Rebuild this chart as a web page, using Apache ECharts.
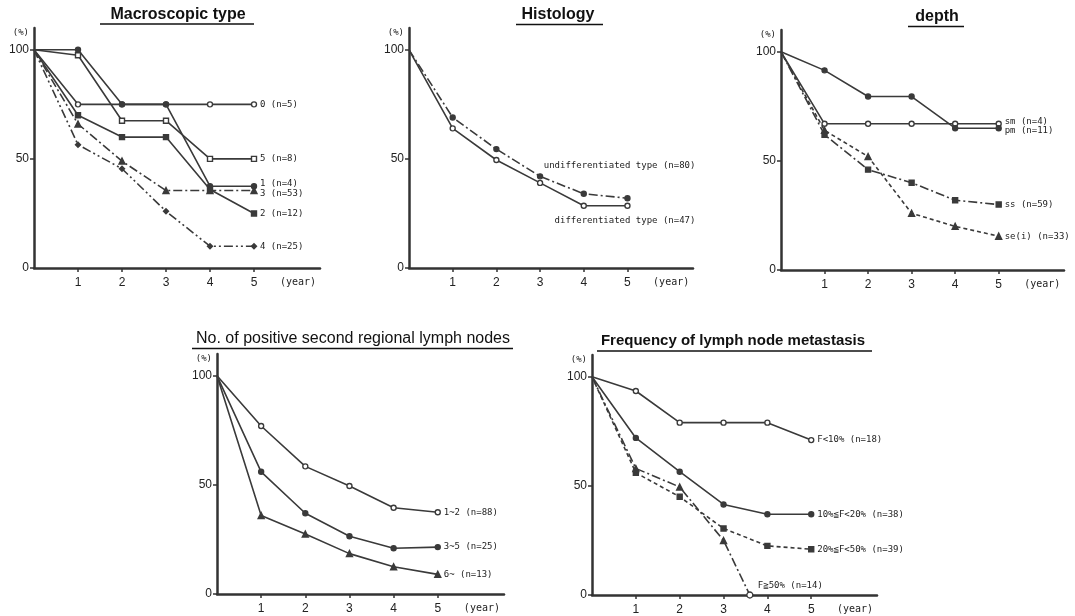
<!DOCTYPE html>
<html>
<head>
<meta charset="utf-8">
<script src="https://cdn.jsdelivr.net/npm/echarts@6/dist/echarts.min.js"></script>
<style>html,body{margin:0;padding:0;background:#fff}#c{width:1075px;height:616px}</style>
</head>
<body>
<div id="c"></div>
<script>
// ---------- data ----------
const years = [0, 1, 2, 3, 4, 5];
const xTicks = [1, 2, 3, 4, 5];
const yTicks = [0, 50, 100];

// Macroscopic type
const macro0 = [100, 75, 75, 75, 75, 75];
const macro5 = [100, 97.5, 67.5, 67.5, 50, 50];
const macro1 = [100, 100, 75, 75, 37.5, 37.5];
const macro3 = [100, 66, 49, 35.5, 35.5, 35.5];
const macro2 = [100, 70, 60, 60, 36, 25];
const macro4 = [100, 56.5, 45.5, 26, 10, 10];

// Histology
const histUndiff = [100, 69, 54.5, 42, 34, 32];
const histDiff = [100, 64, 49.5, 39, 28.5, 28.5];

// depth
const depthSm = [100, 67, 67, 67, 67, 67];
const depthPm = [100, 91.5, 79.5, 79.5, 65, 65];
const depthSs = [100, 62, 46, 40, 32, 30];
const depthSe = [100, 64, 52, 26, 20, 15.5];

// No. of positive second regional lymph nodes
const ln12 = [100, 77, 58.5, 49.5, 39.5, 37.5];
const ln35 = [100, 56, 37, 26.5, 21, 21.5];
const ln6 = [100, 36, 27.5, 18.5, 12.5, 9];

// Frequency of lymph node metastasis
const freqLt10 = [100, 93.5, 79, 79, 79, 71];
const freq10to20 = [100, 72, 56.5, 41.5, 37, 37];
const freq20to50 = [100, 56, 45, 30.5, 22.5, 21];
const freqGe50X = [0, 1, 2, 3, 3.6];
const freqGe50 = [100, 58, 49.5, 25, 0];

// ---------- styling / layout ----------
const INK = '#333';
const LINE = '#3a3a3a';
const MONO = '"DejaVu Sans Mono", "Liberation Mono", monospace';
const SANS = '"Liberation Sans", Arial, sans-serif';
const DASHDOT = [9, 3, 2, 3];
const DASHDOTDOT = [9, 3, 2, 3, 2, 3];
const DASHED = [4, 3];

const grids = [
  {left: 34, top: 28, width: 286, height: 240},
  {left: 409, top: 28, width: 284, height: 240},
  {left: 781, top: 30, width: 283, height: 240},
  {left: 217, top: 354, width: 287, height: 240},
  {left: 592, top: 355, width: 285, height: 240}
];

function xAxisFor(i) {
  return {
    type: 'value', gridIndex: i, min: 0, max: 6.5,
    axisLine: {show: true, lineStyle: {color: INK, width: 2.5}},
    axisTick: {show: true, length: 4, lineStyle: {color: INK, width: 1.5}, customValues: xTicks},
    splitLine: {show: false},
    axisLabel: {
      customValues: xTicks.concat([6]), margin: 9,
      color: '#222', fontFamily: SANS, fontSize: 12,
      formatter: v => v === 6 ? '{y|(year)}' : String(v),
      rich: {y: {fontFamily: MONO, fontSize: 10, color: '#222'}}
    }
  };
}
function yAxisFor(i) {
  return {
    type: 'value', gridIndex: i, min: 0, max: 110,
    axisLine: {show: true, lineStyle: {color: INK, width: 2.5}},
    axisTick: {show: true, length: 4, lineStyle: {color: INK, width: 1.5}, customValues: yTicks},
    splitLine: {show: false},
    axisLabel: {
      customValues: yTicks.concat([108]), margin: 5,
      color: '#222', fontFamily: SANS, fontSize: 12,
      formatter: v => v === 108 ? '{p|(%)}' : String(v),
      rich: {p: {fontFamily: MONO, fontSize: 9, color: '#222'}}
    }
  };
}

function mk(name, grid, xs, ys, symbol, lineType, filled, labelOffset, labelAlign) {
  const data = ys.map((y, k) => k === 0 ? {value: [xs[k], y], symbol: 'none'} : [xs[k], y]);
  return {
    name: name, type: 'line', xAxisIndex: grid, yAxisIndex: grid,
    data: data, symbol: symbol, symbolSize: symbol === 'triangle' ? 6 : 5,
    showAllSymbol: true,
    lineStyle: {color: LINE, width: 1.6, type: lineType},
    itemStyle: {color: filled ? LINE : '#fff', borderColor: LINE, borderWidth: 1.4},
    endLabel: {
      show: true, formatter: '{a}', fontFamily: MONO, fontSize: 9, color: '#222',
      distance: 6, offset: labelOffset || [0, 0], align: labelAlign || 'left'
    },
    emphasis: {disabled: true},
    z: 3
  };
}

const series = [
  mk('0 (n=5)', 0, years, macro0, 'circle', 'solid', false),
  mk('5 (n=8)', 0, years, macro5, 'rect', 'solid', false),
  mk('1 (n=4)', 0, years, macro1, 'circle', 'solid', true, [0, -3]),
  mk('3 (n=53)', 0, years, macro3, 'triangle', DASHDOT, true, [0, 3]),
  mk('2 (n=12)', 0, years, macro2, 'rect', 'solid', true),
  mk('4 (n=25)', 0, years, macro4, 'diamond', DASHDOTDOT, true),

  mk('undifferentiated type (n=80)', 1, years, histUndiff, 'circle', DASHDOT, true, [62, -33], 'right'),
  mk('differentiated type (n=47)', 1, years, histDiff, 'circle', 'solid', false, [62, 15], 'right'),

  mk('sm (n=4)', 2, years, depthSm, 'circle', 'solid', false, [0, -2]),
  mk('pm (n=11)', 2, years, depthPm, 'circle', 'solid', true, [0, 2]),
  mk('ss (n=59)', 2, years, depthSs, 'rect', DASHDOT, true),
  mk('se(i) (n=33)', 2, years, depthSe, 'triangle', DASHED, true),

  mk('1~2 (n=88)', 3, years, ln12, 'circle', 'solid', false),
  mk('3~5 (n=25)', 3, years, ln35, 'circle', 'solid', true),
  mk('6~ (n=13)', 3, years, ln6, 'triangle', 'solid', true),

  mk('F<10% (n=18)', 4, years, freqLt10, 'circle', 'solid', false),
  mk('10%≦F<20% (n=38)', 4, years, freq10to20, 'circle', 'solid', true),
  mk('20%≦F<50% (n=39)', 4, years, freq20to50, 'rect', DASHED, true),
  mk('F≧50% (n=14)', 4, freqGe50X, freqGe50, 'triangle', DASHDOT, true, [2, -9])
];
// last point of F>=50% is an open circle at 0
series[series.length - 1].data[4] = {value: [freqGe50X[4], freqGe50[4]], symbol: 'circle', itemStyle: {color: '#fff'}};

const titles = [
  {text: 'Macroscopic type', x: 178, y: 15, bold: true, size: 16, ul: [100, 254, 24]},
  {text: 'Histology', x: 558, y: 15, bold: true, size: 16, ul: [516, 603, 24.5]},
  {text: 'depth', x: 937, y: 17, bold: true, size: 16, ul: [908, 964, 26.5]},
  {text: 'No. of positive second regional lymph nodes', x: 353, y: 339, bold: false, size: 16, ul: [192, 513, 348.5]},
  {text: 'Frequency of lymph node metastasis', x: 733, y: 341, bold: true, size: 15, ul: [597, 872, 351]}
];
const graphic = [];
titles.forEach(t => {
  graphic.push({
    type: 'text', x: t.x, y: t.y, silent: true,
    style: {
      text: t.text, align: 'center', verticalAlign: 'middle', fill: '#111',
      font: (t.bold ? 'bold ' : '') + t.size + 'px ' + SANS
    }
  });
  graphic.push({
    type: 'line', silent: true,
    shape: {x1: t.ul[0], y1: t.ul[2], x2: t.ul[1], y2: t.ul[2]},
    style: {stroke: '#111', lineWidth: 1.5}
  });
});

const chart = echarts.init(document.getElementById('c'), null, {renderer: 'canvas'});
chart.setOption({
  backgroundColor: '#fff',
  animation: false,
  grid: grids,
  xAxis: grids.map((g, i) => xAxisFor(i)),
  yAxis: grids.map((g, i) => yAxisFor(i)),
  series: series,
  graphic: graphic
});
</script>
</body>
</html>
